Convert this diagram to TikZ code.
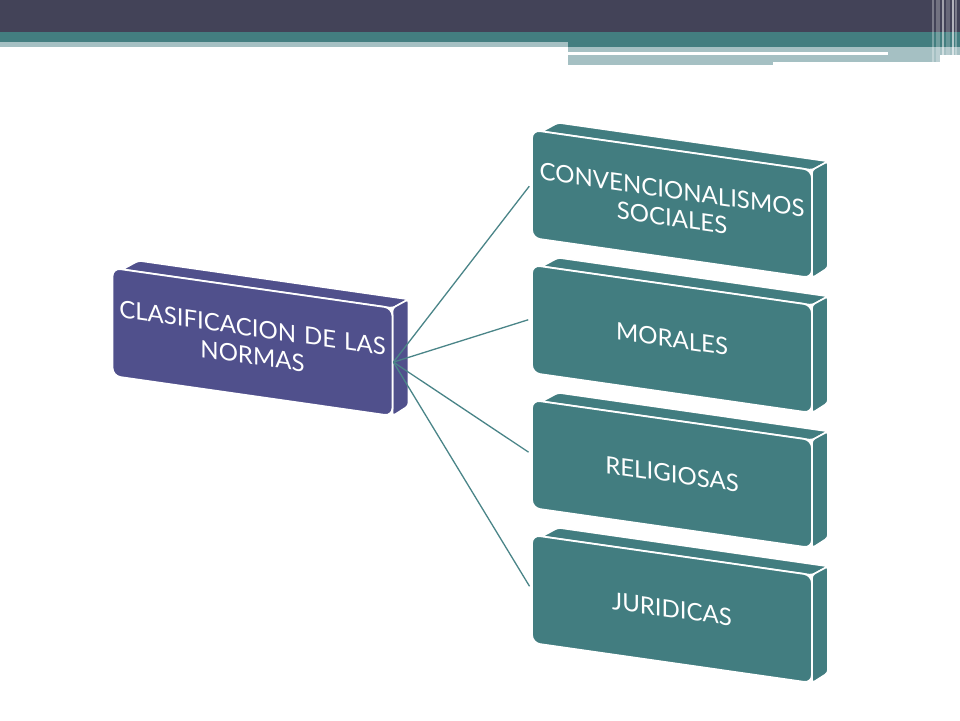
\documentclass[tikz,border=0pt]{standalone}
\usepackage{fontspec}
\setmainfont{Lato}
\definecolor{hdrdark}{HTML}{434358}
\definecolor{hdrteal}{HTML}{437E80}
\definecolor{hdrlight}{HTML}{A5C0C3}
\definecolor{boxpurple}{HTML}{50508C}
\definecolor{boxteal}{HTML}{427D80}
\definecolor{linkteal}{HTML}{4A8588}
\tikzset{
  face/.style={draw=white, line width=1.8pt, rounded corners=8pt,
    minimum width=280pt, minimum height=108pt, inner sep=0pt,
    text width=278pt, align=center, text=white,
    font=\fontsize{24}{28}\selectfont, transform shape},
  slabside/.style={draw=white, line width=1.6pt, line join=round, rounded corners=3pt},
  link/.style={draw=linkteal, line width=1.3pt, shorten >=3pt},
}
\newcommand{\slab}[5]{%
  \begin{scope}[shift={(#2,#3)}, yslant=-0.143]
    \filldraw[slabside, fill=#4] (-130,-54) -- (140,-54) -- (156,-65) -- (-114,-65) -- cycle;
    \filldraw[slabside, fill=#4] (140,-54) -- (156,-65) -- (156,41.5) -- (140,54) -- cycle;
    \node[face, fill=#4] (#1) at (0,0) {#5};
  \end{scope}}
\begin{document}
\begin{tikzpicture}[x=1pt, y=-1pt]
  \useasboundingbox (0,0) rectangle (960,720);
  \fill[white] (0,0) rectangle (960,720);
  % header
  \fill[hdrdark] (0,0) rectangle (960,32);
  \fill[hdrteal] (0,32) rectangle (960,42);
  \fill[hdrteal] (568,42) rectangle (960,47);
  \fill[hdrlight] (0,42) rectangle (568,47);
  \fill[hdrlight] (568,47) rectangle (960,52);
  \fill[hdrlight] (888,52) rectangle (960,55);
  \fill[hdrlight] (568,54.7) rectangle (773,64.5);
  \fill[hdrlight] (773,54.7) rectangle (940,62);
  \foreach \xa/\xb/\op in {932/934/0.3, 936/940/0.25, 942/943.5/0.5, 946/950/0.2, 952/953.5/0.6, 955/957/0.3}
    \fill[white, opacity=\op] (\xa,0) rectangle (\xb,64);
  % boxes
  \slab{c0}{252.5}{342}{boxpurple}{CLASIFICACION DE LAS\\NORMAS}
  \slab{c1}{672}{204}{boxteal}{CONVENCIONALISMOS\\SOCIALES}
  \slab{c2}{672}{339}{boxteal}{MORALES}
  \slab{c3}{672}{474}{boxteal}{RELIGIOSAS}
  \slab{c4}{672}{609}{boxteal}{JURIDICAS}
  % connectors
  \draw[link] (c0.east) -- (c1.west);
  \draw[link] (c0.east) -- (c2.west);
  \draw[link] (c0.east) -- (c3.west);
  \draw[link] (c0.east) -- (c4.west);
\end{tikzpicture}
\end{document}
